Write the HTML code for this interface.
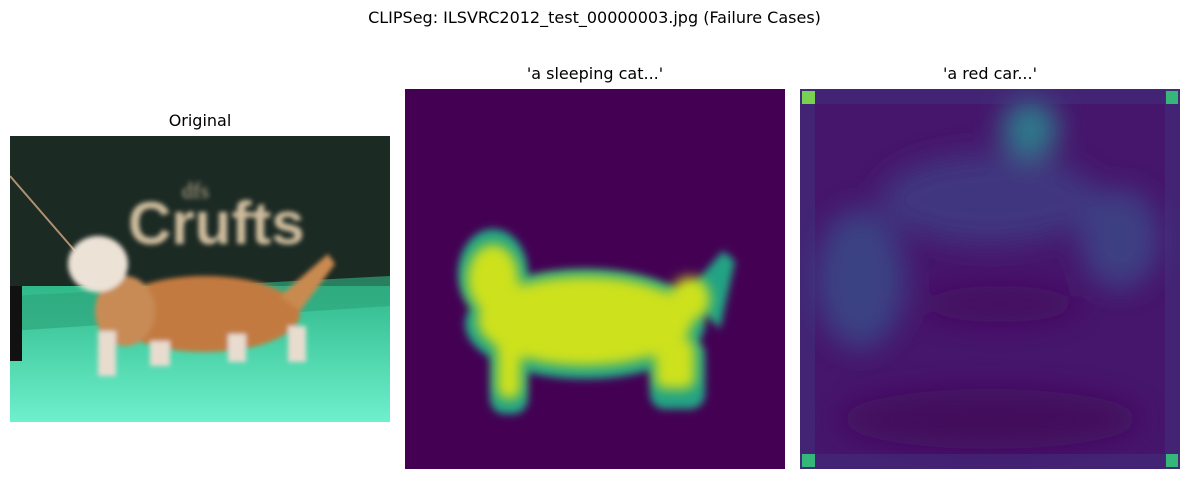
<!DOCTYPE html>
<html><head><meta charset="utf-8"><style>
body{margin:0;width:1189px;height:479px;background:#fff;position:relative;overflow:hidden;font-family:"DejaVu Sans","Liberation Sans",sans-serif}
.t{position:absolute;font-size:16px;color:#000;text-align:center;white-space:nowrap}
svg{position:absolute}
</style></head><body>
<div class="t" style="left:0;width:1189px;top:8px">CLIPSeg: ILSVRC2012_test_00000003.jpg (Failure Cases)</div>
<div class="t" style="left:10px;width:380px;top:111px">Original</div>
<div class="t" style="left:405px;width:380px;top:64px">'a sleeping cat...'</div>
<div class="t" style="left:800px;width:380px;top:64px">'a red car...'</div>

<svg style="left:10px;top:136px" width="380" height="286" viewBox="0 0 380 286">
<defs><filter id="b1"><feGaussianBlur stdDeviation="2.5"/></filter>
<linearGradient id="fl" x1="0" y1="0" x2="0" y2="1"><stop offset="0" stop-color="#2fb98a"/><stop offset="1" stop-color="#6ef0cc"/></linearGradient></defs>
<rect width="380" height="286" fill="#1c2a24"/>
<rect y="150" width="380" height="136" fill="url(#fl)"/>
<polygon points="0,160 380,140 380,170 0,195" fill="#2fa57c" opacity="0.7"/>
<text x="118" y="108" font-size="60" font-weight="bold" fill="#cdbb9c" font-family="Liberation Sans" filter="url(#b1)">Crufts</text>
<text x="172" y="62" font-size="22" fill="#bfae8e" font-family="Liberation Serif" filter="url(#b1)">dfs</text>
<rect x="0" y="150" width="12" height="75" fill="#111"/>
<line x1="0" y1="40" x2="65" y2="115" stroke="#b09070" stroke-width="2"/>
<g filter="url(#b1)">
<ellipse cx="195" cy="178" rx="95" ry="38" fill="#c27a40"/>
<ellipse cx="115" cy="175" rx="30" ry="35" fill="#c88b55"/>
<ellipse cx="88" cy="128" rx="30" ry="28" fill="#ece2d6"/>
<polygon points="270,160 318,118 325,128 290,175" fill="#c98a50"/>
<rect x="88" y="195" width="18" height="45" fill="#e8dccf"/>
<rect x="140" y="205" width="20" height="25" fill="#e8dccf"/>
<rect x="218" y="198" width="18" height="28" fill="#e8dccf"/>
<rect x="278" y="190" width="18" height="36" fill="#e8dccf"/>
</g>
</svg>

<svg style="left:405px;top:89px" width="380" height="380" viewBox="0 0 380 380">
<defs><filter id="b2"><feGaussianBlur stdDeviation="6"/></filter><filter id="b3"><feGaussianBlur stdDeviation="4"/></filter></defs>
<rect width="380" height="380" fill="#440154"/>
<g filter="url(#b3)" fill="#22a384">
<ellipse cx="88" cy="185" rx="35" ry="45"/>
<ellipse cx="180" cy="235" rx="120" ry="55"/>
<polygon points="280,205 318,162 330,172 315,240"/>
<rect x="85" y="240" width="38" height="85" rx="15"/>
<rect x="245" y="250" width="55" height="70" rx="15"/>
</g>
<g filter="url(#b2)" fill="#cde11d">
<ellipse cx="88" cy="190" rx="26" ry="35"/>
<ellipse cx="180" cy="232" rx="108" ry="45"/>
<rect x="92" y="240" width="24" height="70" rx="10"/>
<rect x="250" y="250" width="40" height="50" rx="10"/>
<ellipse cx="285" cy="210" rx="20" ry="22"/>
</g>
</svg>

<svg style="left:800px;top:89px" width="380" height="380" viewBox="0 0 380 380">
<defs><filter id="b4"><feGaussianBlur stdDeviation="14"/></filter></defs>
<rect width="380" height="380" fill="#46156c"/>
<g filter="url(#b4)">
<ellipse cx="230" cy="40" rx="28" ry="30" fill="#2d7a8c"/>
<ellipse cx="190" cy="110" rx="110" ry="45" fill="#3d3f85" opacity="0.8"/>
<ellipse cx="60" cy="190" rx="45" ry="70" fill="#3a4d89" opacity="0.8"/>
<ellipse cx="320" cy="150" rx="40" ry="50" fill="#3b4b89" opacity="0.8"/>
<ellipse cx="200" cy="215" rx="80" ry="18" fill="#440a5e"/>
<ellipse cx="190" cy="330" rx="150" ry="30" fill="#420b5c"/>
</g>
<rect x="0" y="0" width="380" height="15" fill="#3f3e83" opacity="0.35"/>
<rect x="0" y="365" width="380" height="15" fill="#3f3e83" opacity="0.35"/>
<rect x="0" y="0" width="15" height="380" fill="#3f3e83" opacity="0.35"/>
<rect x="365" y="0" width="15" height="380" fill="#3f3e83" opacity="0.35"/>
<rect x="2" y="2" width="13" height="13" fill="#7ad151"/>
<rect x="366" y="2" width="12" height="13" fill="#35b779"/>
<rect x="2" y="365" width="13" height="13" fill="#35b779"/>
<rect x="366" y="365" width="12" height="13" fill="#35b779"/>
</svg>
</body></html>
